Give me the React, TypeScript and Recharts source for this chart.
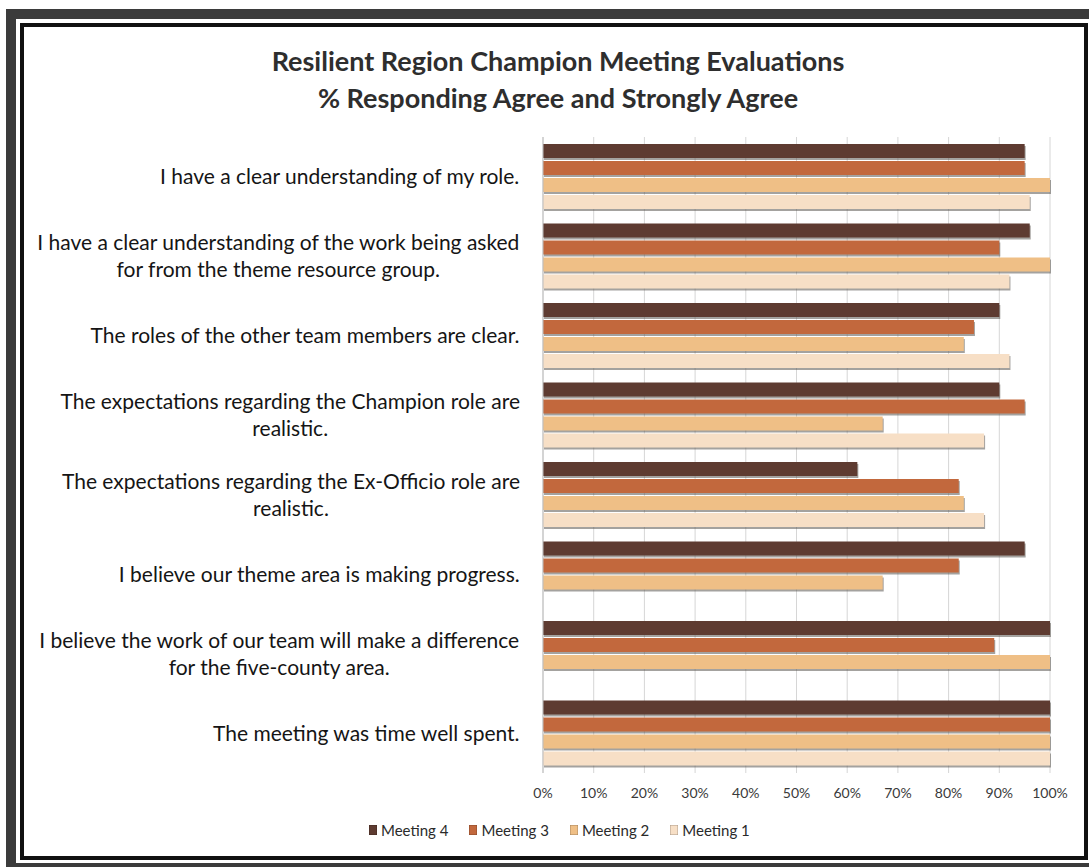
import { BarChart, Bar, XAxis, YAxis, CartesianGrid } from 'recharts'

const categories = [
  'I have a clear understanding of my role.',
  'I have a clear understanding of the work being asked\nfor from the theme resource group.',
  'The roles of the other team members are clear.',
  'The expectations regarding the Champion role are\nrealistic.',
  'The expectations regarding the Ex-Officio role are\nrealistic.',
  'I believe our theme area is making progress.',
  'I believe the work of our team will make a difference\nfor the five-county area.',
  'The meeting was time well spent.',
]

const meeting4 = [95, 96, 90, 90, 62, 95, 100, 100]
const meeting3 = [95, 90, 85, 95, 82, 82, 89, 100]
const meeting2 = [100, 100, 83, 67, 83, 67, 100, 100]
const meeting1 = [96, 92, 92, 87, 87, null, null, 100]

const xTicks = [0, 10, 20, 30, 40, 50, 60, 70, 80, 90, 100]

const seriesNames = ['Meeting 4', 'Meeting 3', 'Meeting 2', 'Meeting 1']
const seriesColors = ['#5e3b31', '#c2683d', '#efbf86', '#f7dfc6']

const titleLines = [
  'Resilient Region Champion Meeting Evaluations',
  '% Responding Agree and Strongly Agree',
]

const FONT = 'Lato, "Noto Sans", sans-serif'
const LABEL_SIZE = 21

const data = categories.map((name, i) => ({
  name,
  m4: meeting4[i],
  m3: meeting3[i],
  m2: meeting2[i],
  m1: meeting1[i],
}))

const seriesKeys = ['m4', 'm3', 'm2', 'm1']

let ctx: CanvasRenderingContext2D | null = null
function textWidth(s: string, font: string) {
  if (!ctx) ctx = document.createElement('canvas').getContext('2d')
  if (!ctx) return s.length * 9
  ctx.font = font
  return ctx.measureText(s).width
}

// multi-line labels: right edge at the tick x, extra lines centred under the widest one
function CategoryTick(props: any) {
  const { x, y, payload } = props
  const lines = String(payload.value).split('\n')
  const widest = Math.max(...lines.map((l) => textWidth(l, `${LABEL_SIZE}px Lato`)))
  const cx = x - widest / 2
  const lh = 27
  const top = y - ((lines.length - 1) * lh) / 2
  return (
    <text textAnchor="middle" fontFamily={FONT} fontSize={LABEL_SIZE} fill="#151515">
      {lines.map((l, i) => (
        <tspan key={i} x={cx} y={top + i * lh} dy="0.35em">
          {l}
        </tspan>
      ))}
    </text>
  )
}

function ShadowBar(props: any) {
  const { x, y, width, height, fill } = props
  if (!width || width <= 0) return <g />
  return (
    <g>
      <rect x={x + 1} y={y + 2} width={width} height={height} fill="#5a5550" opacity={0.55} />
      <rect x={x} y={y} width={width} height={height} fill={fill} />
    </g>
  )
}

export default function App() {
  return (
    <div style={{ position: 'absolute', left: 0, top: 0, width: 1089, height: 867, overflow: 'hidden', background: '#fff' }}>
      <div style={{ position: 'absolute', left: 6, top: 9, width: 1095, height: 864, boxSizing: 'border-box', border: '10px solid #3b3b3b' }} />
      <div style={{ position: 'absolute', left: 20, top: 23, width: 1068, height: 837, boxSizing: 'border-box', border: '4px solid #111' }} />

      {titleLines.map((t, i) => (
        <div
          key={t}
          style={{
            position: 'absolute',
            left: 0,
            width: 1116,
            top: 44 + i * 37,
            textAlign: 'center',
            fontFamily: FONT,
            fontWeight: 700,
            fontSize: 27,
            lineHeight: '34px',
            color: '#2e2e2e',
          }}
        >
          {t}
        </div>
      ))}

      <div style={{ position: 'absolute', left: 0, top: 0 }}>
        <BarChart
          width={1089}
          height={867}
          layout="vertical"
          data={data}
          margin={{ top: 137, right: 39, bottom: 54, left: 20 }}
          barCategoryGap={7}
          barGap={3}
          barSize={14}
        >
          <CartesianGrid horizontal={false} stroke="#d6d6d6" />
          <XAxis
            type="number"
            domain={[0, 100]}
            ticks={xTicks}
            tickFormatter={(v) => `${v}%`}
            axisLine={false}
            tickLine={false}
            tickSize={0}
            tickMargin={15}
            height={40}
            tick={{ fontSize: 14, fill: '#3a3a3a', fontFamily: FONT }}
            interval={0}
          />
          <YAxis
            type="category"
            dataKey="name"
            width={523}
            axisLine={{ stroke: '#bdbdbd' }}
            tickLine={false}
            tickSize={0}
            tickMargin={23}
            tick={<CategoryTick />}
            interval={0}
          />
          {seriesKeys.map((k, i) => (
            <Bar key={k} dataKey={k} name={seriesNames[i]} fill={seriesColors[i]} shape={<ShadowBar />} isAnimationActive={false} />
          ))}
        </BarChart>
      </div>

      <div
        style={{
          position: 'absolute',
          left: 369,
          top: 819,
          height: 22,
          display: 'flex',
          alignItems: 'center',
          gap: 21,
          fontFamily: FONT,
          fontSize: 15,
          color: '#2a2a2a',
        }}
      >
        {seriesNames.map((n, i) => (
          <div key={n} style={{ display: 'flex', alignItems: 'center', gap: 4 }}>
            <span style={{ display: 'inline-block', width: 8, height: 10, background: seriesColors[i], boxShadow: 'inset 0 0 0 0.5px rgba(0,0,0,0.3)' }} />
            <span>{n}</span>
          </div>
        ))}
      </div>
    </div>
  )
}
